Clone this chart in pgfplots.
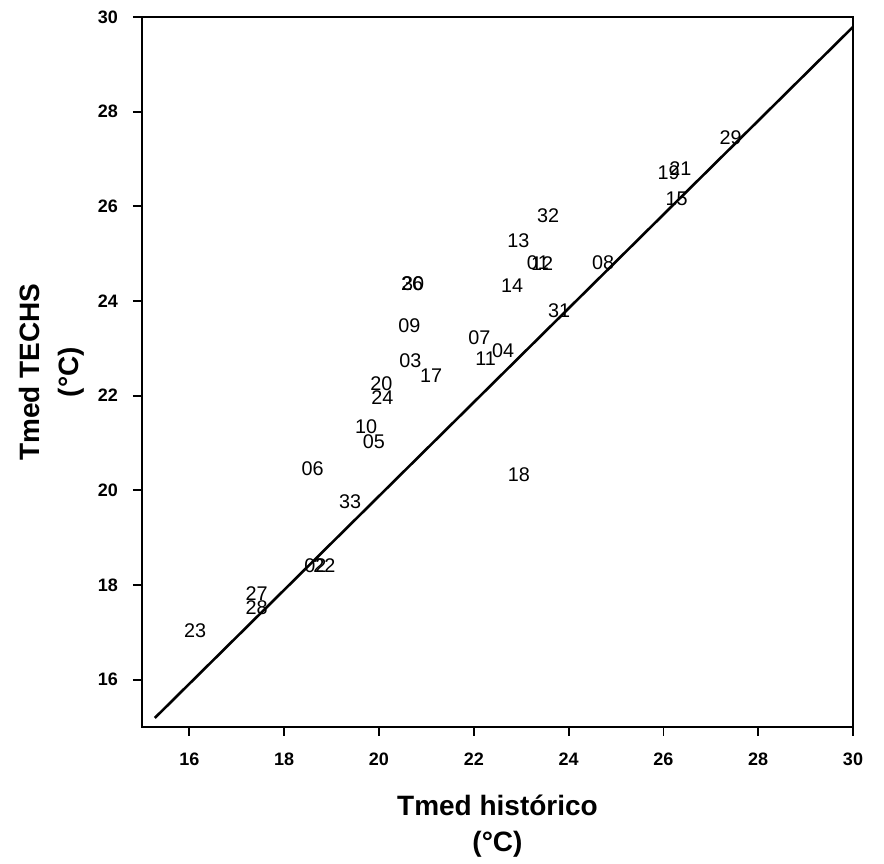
\documentclass[border=0pt]{standalone}
\usepackage{pgfplots}
\pgfplotsset{compat=1.18}
\usepackage{pgfplotstable}
\usepackage{fontspec}
\setmainfont{Liberation Sans}
\pgfplotstableread{
label x y
29 27.42 27.45
19 26.11 26.71
21 26.36 26.79
15 26.28 26.16
32 23.57 25.80
13 22.94 25.27
01 23.35 24.80
12 23.44 24.78
08 24.73 24.80
14 22.81 24.33
26 20.70 24.37
30 20.72 24.37
09 20.64 23.48
07 22.12 23.23
04 22.62 22.95
11 22.25 22.78
31 23.80 23.79
03 20.66 22.74
17 21.10 22.43
20 20.05 22.25
24 20.07 21.96
10 19.73 21.35
05 19.89 21.03
06 18.60 20.45
18 22.95 20.33
33 19.39 19.77
02 18.66 18.41
22 18.85 18.41
27 17.42 17.81
28 17.42 17.51
23 16.12 17.04
}\labels
\begin{document}
\begin{tikzpicture}
\begin{axis}[
  scale only axis, width=355.5pt, height=355pt,
  xmin=15, xmax=30, ymin=15, ymax=30,
  xtick={16,18,...,30}, ytick={16,18,...,30},
  tick align=outside, xtick pos=bottom, ytick pos=left,
  major tick length=4.5pt,
  axis line style={line width=0.9pt},
  every tick/.style={line width=0.9pt, black},
  tick label style={font=\fontsize{9}{11}\selectfont\bfseries},
  /pgf/number format/assume math mode=true,
  xticklabel style={yshift=-5pt},
  yticklabel style={xshift=-4pt},
  clip=false,
]
\addplot[black, line width=1.3pt, no marks] coordinates {(15.27,15.19) (30,29.79)};
\addplot[only marks, mark=none, point meta=explicit symbolic,
  nodes near coords,
  every node near coord/.append style={anchor=center, inner sep=0pt, font=\fontsize{9.9}{12}\selectfont}]
  table[x=x, y=y, meta=label] {\labels};
\coordinate (sw) at (rel axis cs:0,0);
\coordinate (ne) at (rel axis cs:1,1);
\coordinate (lm) at (rel axis cs:0,0.5);
\coordinate (bm) at (rel axis cs:0.5,0);
\end{axis}
\node[rotate=90, align=center, font=\fontsize{14}{19.5}\selectfont\bfseries] at ([xshift=-45pt]lm) {Tmed TECHS\\(°C)};
\node[align=center, font=\fontsize{14}{18}\selectfont\bfseries] at ([yshift=-49.5pt]bm) {Tmed histórico\\(°C)};
\pgfresetboundingbox
\path[use as bounding box] ([shift={(-71pt,-68.5pt)}]sw) rectangle ([shift={(15.5pt,8.5pt)}]ne);
\end{tikzpicture}
\end{document}
